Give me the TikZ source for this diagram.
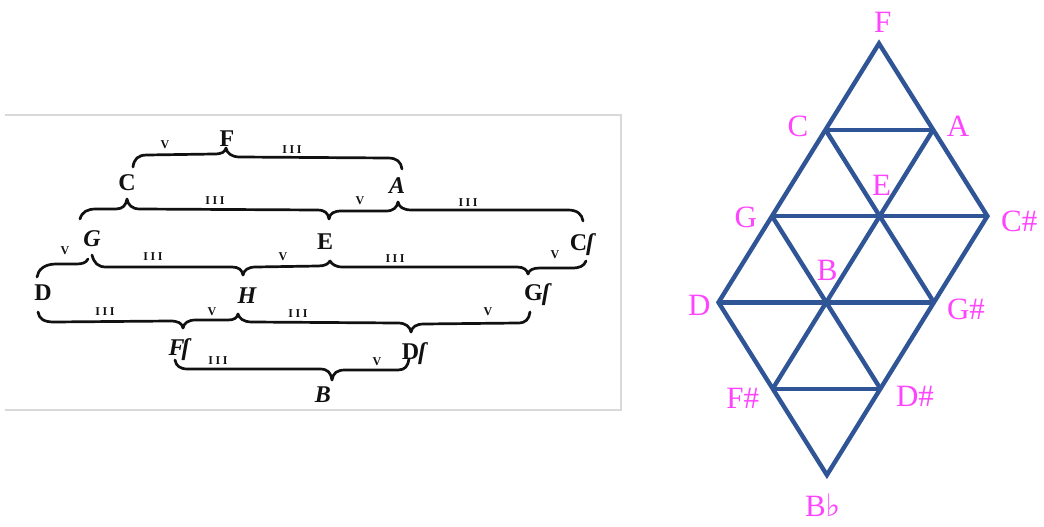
\documentclass[tikz,border=0pt]{standalone}
\usepackage{fontspec}
\setmainfont{Liberation Serif}
\newfontfamily\symfam{DejaVu Serif}
\definecolor{latblue}{HTML}{2F5597}
\definecolor{notemag}{HTML}{FF44FF}
\definecolor{framegray}{HTML}{D9D9D9}
\definecolor{ink}{HTML}{111111}
\begin{document}
\begin{tikzpicture}[x=1pt,y=-1pt,
  eb/.style={draw=ink, line width=2.7pt, line cap=round, line join=round},
  scanletter/.style={inner sep=0pt, text=ink, font=\fontsize{24}{24}\selectfont\bfseries},
  ivl/.style={inner sep=0pt, text=ink, font=\fontsize{12}{12}\selectfont\bfseries},
  latline/.style={draw=latblue, line width=4.4pt, line join=miter},
  notelab/.style={inner sep=0pt, text=notemag, font=\fontsize{31}{31}\selectfont}]
\useasboundingbox (0,0) rectangle (1044,527);
\fill[white] (0,0) rectangle (1044,527);

% ---------- left: Euler's Speculum musicum ----------
\draw[framegray, line width=1.2pt] (5,115) -- (621,115) -- (621,410) -- (5,410);

\node[scanletter] (nF)  at (227,139) {F};
\node[scanletter] (nC)  at (127,183) {C};
\node[scanletter] (nA)  at (397,186) {\itshape A};
\node[scanletter] (nG)  at (92,239)  {\itshape G};
\node[scanletter] (nE)  at (325,242) {E};
\node[scanletter] (nCs) at (582,245) {C\kern-1pt\itshape ſ};
\node[scanletter] (nD)  at (43,293)  {D};
\node[scanletter] (nH)  at (247,296) {\itshape H};
\node[scanletter] (nGs) at (537,295) {G\kern-1pt\itshape ſ};
\node[scanletter] (nFs) at (179,350) {\itshape F\kern-3ptſ};
\node[scanletter] (nDs) at (414,354) {D\kern-1pt\itshape ſ};
\node[scanletter] (nB)  at (323,395) {\itshape B};

% interval labels
\node[ivl] (i1a) at (165,145) {V};
\node[ivl] (i1b) at (292,150) {I\kern2.5ptI\kern2.5ptI};
\node[ivl] (i2a) at (215,201) {I\kern2.5ptI\kern2.5ptI};
\node[ivl] (i2b) at (360,201) {V};
\node[ivl] (i2c) at (468,203) {I\kern2.5ptI\kern2.5ptI};
\node[ivl] (i3a) at (65,251)  {V};
\node[ivl] (i3b) at (153,257) {I\kern2.5ptI\kern2.5ptI};
\node[ivl] (i3c) at (283,257) {V};
\node[ivl] (i3d) at (395,259) {I\kern2.5ptI\kern2.5ptI};
\node[ivl] (i3e) at (555,255) {V};
\node[ivl] (i5a) at (105,312) {I\kern2.5ptI\kern2.5ptI};
\node[ivl] (i5b) at (212,312) {V};
\node[ivl] (i5c) at (298,314) {I\kern2.5ptI\kern2.5ptI};
\node[ivl] (i5d) at (488,312) {V};
\node[ivl] (i6a) at (218,361) {I\kern2.5ptI\kern2.5ptI};
\node[ivl] (i6b) at (377,362) {V};

% braces
\draw[eb] (133,167) .. controls (134,159) and (138,155) .. (147,155) -- (214,154)
  .. controls (222,154) and (225,152) .. (226,148)
  .. controls (227,153) and (231,157) .. (240,157) -- (388,158)
  .. controls (397,158) and (401,162) .. (402,169);

\draw[eb] (80,219) .. controls (82,212) and (87,209) .. (96,209) -- (116,209)
  .. controls (123,209) and (126,205) .. (127,199)
  .. controls (128,205) and (132,209) .. (140,209) -- (317,210)
  .. controls (325,210) and (328,213) .. (329,219)
  .. controls (330,213) and (334,211) .. (342,211) -- (386,211)
  .. controls (394,211) and (397,207) .. (398,202)
  .. controls (399,207) and (403,210) .. (412,210) -- (568,210)
  .. controls (577,210) and (582,214) .. (583,221);

\draw[eb] (92,255) .. controls (94,263) and (98,267) .. (106,267) -- (232,267)
  .. controls (239,267) and (242,270) .. (243,275)
  .. controls (244,270) and (248,267) .. (256,267) -- (318,266)
  .. controls (325,266) and (328,264) .. (330,261)
  .. controls (332,264) and (335,267) .. (343,267) -- (517,267)
  .. controls (524,267) and (527,270) .. (528,274)
  .. controls (529,270) and (533,268) .. (540,268) -- (572,268)
  .. controls (580,268) and (584,266) .. (586,261);

\draw[eb] (88,259) .. controls (86,263) and (82,264) .. (76,264) -- (56,264)
  .. controls (44,264) and (38,270) .. (37,277);

\draw[eb] (38,312) .. controls (39,319) and (44,322) .. (54,322) -- (170,321)
  .. controls (178,321) and (182,323) .. (183,328)
  .. controls (184,323) and (188,320) .. (196,320) -- (228,320)
  .. controls (234,320) and (237,318) .. (238,314)
  .. controls (239,318) and (243,322) .. (252,322) -- (398,323)
  .. controls (406,323) and (410,327) .. (411,332)
  .. controls (412,327) and (416,324) .. (424,324) -- (518,323)
  .. controls (526,323) and (529,319) .. (530,312);

\draw[eb] (175,360) .. controls (176,366) and (180,369) .. (188,369) -- (320,369)
  .. controls (328,369) and (331,373) .. (332,380)
  .. controls (333,373) and (337,370) .. (345,370) -- (398,370)
  .. controls (405,370) and (408,366) .. (409,359);

% ---------- right: triangular lattice ----------
\coordinate (vF)  at (879,43.5);
\coordinate (vC)  at (825.5,129.8);
\coordinate (vA)  at (933.2,129.8);
\coordinate (vG)  at (772,216.1);
\coordinate (vE)  at (879.7,216.1);
\coordinate (vCs) at (987.4,216.1);
\coordinate (vD)  at (718.5,302.4);
\coordinate (vB)  at (826.2,302.4);
\coordinate (vGs) at (933.9,302.4);
\coordinate (vFs) at (772.7,388.7);
\coordinate (vDs) at (880.4,388.7);
\coordinate (vBb) at (826.9,475);

\draw[latline] (vF) -- (vA) -- (vCs) -- (vGs) -- (vDs) -- (vBb) -- (vFs) -- (vD) -- (vG) -- (vC) -- cycle;
\draw[latline] (vC) -- (vA);
\draw[latline] (vG) -- (vE) -- (vCs);
\draw[latline] (vD) -- (vB) -- (vGs);
\draw[latline] (vFs) -- (vDs);
\draw[latline] (vC) -- (vE) -- (vGs);
\draw[latline] (vG) -- (vB) -- (vDs);
\draw[latline] (vA) -- (vE) -- (vB) -- (vFs);

\node[notelab] (lF)  at (882.7,22)   {F};
\node[notelab] (lC)  at (798,126)    {C};
\node[notelab] (lA)  at (958,126)    {A};
\node[notelab] (lE)  at (881.7,185)  {E};
\node[notelab] (lG)  at (745.7,217.5){G};
\node[notelab] (lCs) at (1019.3,221.7){C\#};
\node[notelab] (lB)  at (827.3,270)  {B};
\node[notelab] (lD)  at (699.3,305)  {D};
\node[notelab] (lGs) at (966,309.3)  {G\#};
\node[notelab] (lFs) at (742.7,398.3){F\#};
\node[notelab] (lDs) at (915,396.7)  {D\#};
\node[notelab] (lBb) at (822.7,505)  {B{\symfam ♭}};
\end{tikzpicture}
\end{document}
